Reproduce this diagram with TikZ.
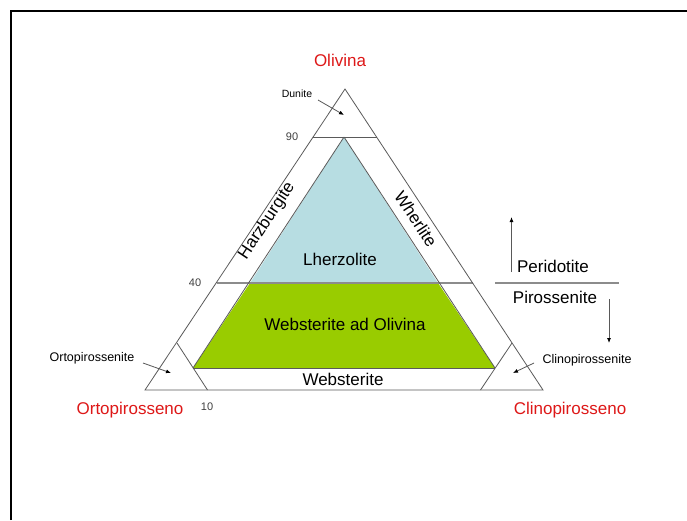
\documentclass[tikz,border=0pt]{standalone}
\usepackage{fontspec}
\setmainfont{Liberation Sans}
\usetikzlibrary{arrows.meta}
\definecolor{olred}{RGB}{222,24,24}
\definecolor{lblue}{RGB}{183,221,226}
\definecolor{lgreen}{RGB}{153,204,0}
\definecolor{edgegray}{RGB}{90,90,90}
\definecolor{midgray}{RGB}{140,140,140}
\begin{document}
\begin{tikzpicture}[x=1pt,y=-1pt,
  edge/.style={draw=edgegray,line width=0.8pt},
  thickgray/.style={draw=midgray,line width=1.6pt},
  arr/.style={draw=black!65,line width=0.8pt,-{Latex[length=5pt,width=4pt,black]}},
  biglbl/.style={inner sep=0pt,font=\fontsize{17}{19}\selectfont},
  redlbl/.style={biglbl,text=olred},
  smalllbl/.style={inner sep=0pt,font=\fontsize{10.5}{12}\selectfont},
  midlbl/.style={inner sep=0pt,font=\fontsize{12.5}{14}\selectfont},
  numlbl/.style={inner sep=0pt,text=black!75,font=\fontsize{11}{13}\selectfont}]
\useasboundingbox (0,0) rectangle (687,520);
\fill[white] (0,0) rectangle (687,520);
\draw[line width=2pt] (11,520) -- (11,11) -- (687,11);

% coordinates
\coordinate (A) at (345,89);
\coordinate (L) at (145,390);
\coordinate (R) at (543,390);
\coordinate (n90l) at (313.3,137);
\coordinate (n90r) at (376.6,137);
\coordinate (bA) at (344,137);
\coordinate (bL) at (250,283);
\coordinate (bR) at (438,283);
\coordinate (gL) at (193,368);
\coordinate (gR) at (495,368);
\coordinate (f40l) at (216.8,283);
\coordinate (f40r) at (472.7,283);
\coordinate (cLa) at (177,343);
\coordinate (cLb) at (207.5,390);
\coordinate (cRa) at (512,343);
\coordinate (cRb) at (480.5,390);

% fills
\fill[lblue] (bA) -- (bL) -- (bR) -- cycle;
\fill[lgreen] (bL) -- (bR) -- (gR) -- (gL) -- cycle;

% lines
\draw[thickgray] (f40l) -- (f40r);
\draw[edge] (A) -- (L) -- (R) -- cycle;
\draw[edge] (n90l) -- (n90r);
\draw[edge] (bA) -- (gL);
\draw[edge] (bA) -- (gR);
\draw[edge] (gL) -- (gR);
\draw[edge] (cLa) -- (cLb);
\draw[edge] (cRa) -- (cRb);

% labels
\node[redlbl] (ol) at (340,60) {Olivina};
\node[redlbl] (opx) at (130,410) {Ortopirosseno};
\node[redlbl] (cpx) at (570,410) {Clinopirosseno};
\node[smalllbl] (dun) at (297,94) {Dunite};
\node[numlbl] (n90) at (292,137) {90};
\node[numlbl] (n40) at (195,283) {40};
\node[numlbl] (n10) at (207,407) {10};
\node[biglbl] (lhz) at (340,259) {Lherzolite};
\node[biglbl] (wao) at (345,324) {Websterite ad Olivina};
\node[biglbl] (web) at (343,379) {Websterite};
\node[biglbl,rotate=56.5] (hzb) at (267,221) {Harzburgite};
\node[biglbl,rotate=-56.5] (whe) at (416,219) {Wherlite};
\node[midlbl] (opxite) at (92,358) {Ortopirossenite};
\node[midlbl] (cpxite) at (587,360) {Clinopirossenite};
\node[biglbl] (per) at (553,266) {Peridotite};
\node[biglbl] (pir) at (555,297) {Pirossenite};

% arrows
\coordinate (dunS) at (318,100);
\coordinate (dunT) at (344,115);
\draw[arr] (dunS) -- (dunT);
\coordinate (opxS) at (143,363);
\coordinate (opxT) at (171,373);
\draw[arr] (opxS) -- (opxT);
\coordinate (cpxS) at (534,363);
\coordinate (cpxT) at (513,373);
\draw[arr] (cpxS) -- (cpxT);
\coordinate (upS) at (511.5,272);
\coordinate (upT) at (511.5,217);
\draw[arr] (upS) -- (upT);
\coordinate (dnS) at (609,299);
\coordinate (dnT) at (609,343);
\draw[arr] (dnS) -- (dnT);
\coordinate (divL) at (495,283);
\coordinate (divR) at (619,283);
\draw[thickgray] (divL) -- (divR);
\end{tikzpicture}
\end{document}
